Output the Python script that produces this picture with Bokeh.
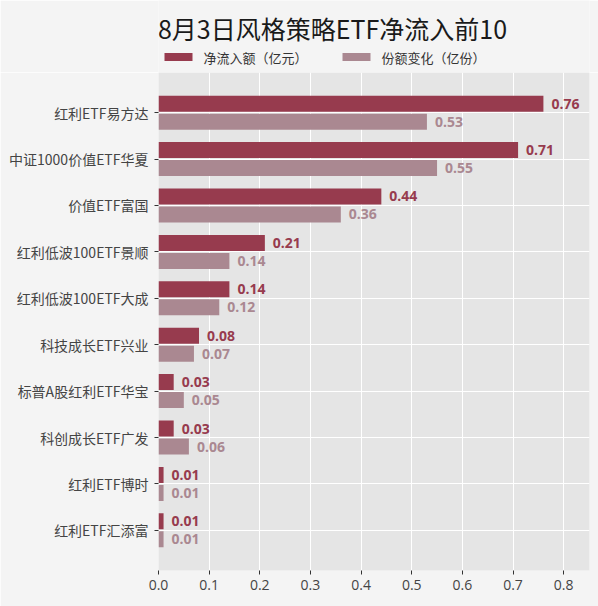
from bokeh.plotting import figure
from bokeh.models import ColumnDataSource, FixedTicker, NumeralTickFormatter
from bokeh.layouts import column
from bokeh.core.properties import value
from bokeh.embed import file_html
from bokeh.resources import INLINE

# ---- data ----
names = ["红利ETF易方达", "中证1000价值ETF华夏", "价值ETF富国", "红利低波100ETF景顺",
         "红利低波100ETF大成", "科技成长ETF兴业", "标普A股红利ETF华宝", "科创成长ETF广发",
         "红利ETF博时", "红利ETF汇添富"]
net_inflow = [0.76, 0.71, 0.44, 0.21, 0.14, 0.08, 0.03, 0.03, 0.01, 0.01]
share_change = [0.53, 0.55, 0.36, 0.14, 0.12, 0.07, 0.05, 0.06, 0.01, 0.01]
x_ticks = [0.0, 0.1, 0.2, 0.3, 0.4, 0.5, 0.6, 0.7, 0.8]
title_text = "8月3日风格策略ETF净流入前10"
series_names = ["净流入额（亿元）", "份额变化（亿份）"]

DARK = "#973b4e"
LIGHT = "#aa8891"
CJK = "Noto Sans CJK SC"
BG = "#f4f4f4"
HEAD_H = 72
FL, FW, FR = 158, 431, 9      # left border, frame width, right border

# ---- header: title + legend (page-pixel coordinates, y downwards) ----
head = figure(frame_width=FW, frame_height=HEAD_H, x_range=(FL, FL + FW), y_range=(HEAD_H, 0),
              min_border_left=FL, min_border_right=FR, min_border_top=0, min_border_bottom=0,
              output_backend="svg", toolbar_location=None,
              background_fill_color=BG, border_fill_color=BG)
head.axis.visible = False
head.grid.visible = False
head.outline_line_color = None

head.text(x=[332], y=[27], text=[title_text], text_align="center",
          text_baseline="middle", text_font=value(CJK), text_font_size="25px",
          text_color="#1a1a1a")

leg_src = ColumnDataSource(dict(
    left=[164, 342], right=[192, 370], top=[52.5, 52.5], bottom=[60.5, 60.5],
    tx=[203, 381], ty=[56.5, 56.5], label=series_names, color=[DARK, LIGHT]))
head.quad(left="left", right="right", top="top", bottom="bottom", color="color",
          line_color=None, source=leg_src)
head.text(x="tx", y="ty", text="label", source=leg_src, text_align="left",
          text_baseline="middle", text_font=value(CJK), text_font_size="13px",
          text_color="#333333")

# ---- main chart ----
n = len(names)
pos = [n - 1 - i for i in range(n)]
off = 0.194
src = ColumnDataSource(dict(
    y=pos,
    y_dark=[p_ + off for p_ in pos],
    y_light=[p_ - off for p_ in pos],
    net=net_inflow,
    share=share_change,
    net_txt=[f"{v:.2f}" for v in net_inflow],
    share_txt=[f"{v:.2f}" for v in share_change],
))

p = figure(frame_width=FW, frame_height=498,
           x_range=(0, 0.851), y_range=(-0.866, n - 1 + 0.866),
           min_border_left=FL, min_border_right=FR, min_border_top=0, min_border_bottom=36,
           output_backend="svg", toolbar_location=None,
           background_fill_color="#e5e5e5", border_fill_color=BG)
p.outline_line_color = None

bh = 0.345
p.hbar(y="y_dark", right="net", left=0, height=bh, source=src,
       fill_color=DARK, line_color=None)
p.hbar(y="y_light", right="share", left=0, height=bh, source=src,
       fill_color=LIGHT, line_color=None)

p.text(x="net", y="y_dark", text="net_txt", source=src, x_offset=8,
       text_baseline="middle", text_align="left", text_color=DARK,
       text_font=value("Open Sans"), text_font_style="bold", text_font_size="14px")
p.text(x="share", y="y_light", text="share_txt", source=src, x_offset=8,
       text_baseline="middle", text_align="left", text_color=LIGHT,
       text_font=value("Open Sans"), text_font_style="bold", text_font_size="14px")

p.xaxis.ticker = FixedTicker(ticks=x_ticks)
p.xaxis.formatter = NumeralTickFormatter(format="0.0")
p.xaxis.axis_line_color = None
p.xaxis.major_tick_line_color = "#333333"
p.xaxis.major_tick_out = 4
p.xaxis.major_tick_in = 0
p.xaxis.minor_tick_line_color = None
p.xaxis.major_label_standoff = 5
p.xaxis.major_label_text_font = "Open Sans"
p.xaxis.major_label_text_font_size = "14px"
p.xaxis.major_label_text_color = "#444444"

p.yaxis.ticker = FixedTicker(ticks=pos)
p.yaxis.major_label_overrides = {pos[i]: names[i] for i in range(n)}
p.yaxis.axis_line_color = None
p.yaxis.major_tick_line_color = "#333333"
p.yaxis.major_tick_out = 4
p.yaxis.major_tick_in = 0
p.yaxis.minor_tick_line_color = None
p.yaxis.major_label_standoff = 6
p.yaxis.major_label_text_font = CJK
p.yaxis.major_label_text_font_size = "14px"
p.yaxis.major_label_text_color = "#444444"

p.xgrid.ticker = FixedTicker(ticks=x_ticks)
p.xgrid.grid_line_color = "white"
p.ygrid.ticker = FixedTicker(ticks=pos)
p.ygrid.grid_line_color = "white"

layout = column(head, p, spacing=0)
open("out.html", "w").write(file_html(layout, INLINE))
